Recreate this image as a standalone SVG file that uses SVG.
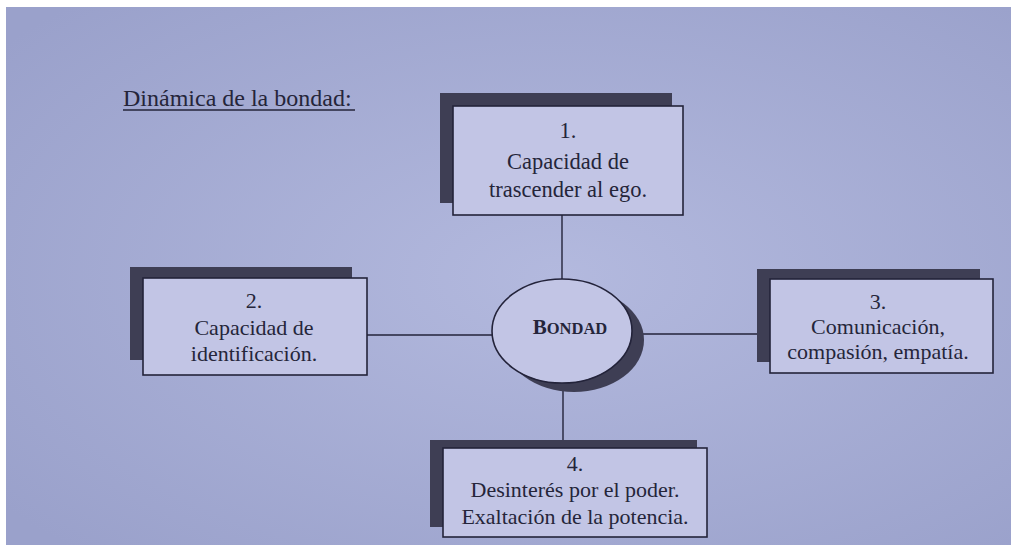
<svg xmlns="http://www.w3.org/2000/svg" width="1011" height="546" viewBox="0 0 1011 546">
  <defs>
    <radialGradient id="bg" cx="0.55" cy="0.5" r="0.7">
      <stop offset="0" stop-color="#b3b9de"/>
      <stop offset="1" stop-color="#9aa1cb"/>
    </radialGradient>
    <style>
      .shadow { fill: #3e3e54; }
      .box { fill: #c2c5e5; stroke: #23233a; stroke-width: 1.6; }
      .conn { stroke: #23233a; stroke-width: 1.4; fill: none; }
    </style>
  </defs>
  <rect x="0" y="0" width="1011" height="546" fill="#ffffff"/>
  <rect x="6" y="7" width="1005" height="538" fill="url(#bg)"/>

  <text x="123" y="106" font-family="Liberation Serif" font-size="24" fill="#25253a">Dinámica de la bondad:</text>
  <line x1="123" y1="110" x2="355" y2="110" stroke="#25253a" stroke-width="1.4"/>

  <g id="connectors">
    <line class="conn" x1="562" y1="215" x2="562" y2="281"/>
    <line class="conn" x1="367" y1="335" x2="492" y2="335"/>
    <line class="conn" x1="632" y1="334" x2="770" y2="334"/>
    <line class="conn" x1="563" y1="383" x2="563" y2="448"/>
  </g>

  <g id="node1">
    <rect class="shadow" x="440" y="93" width="232" height="110"/>
    <rect class="box" x="453" y="106" width="230" height="109"/>
    <text x="568" y="138" font-family="Liberation Serif" font-size="22.5" fill="#25253a" text-anchor="middle">1.</text>
    <text x="568" y="169" font-family="Liberation Serif" font-size="22.5" fill="#25253a" text-anchor="middle">Capacidad de</text>
    <text x="568" y="197" font-family="Liberation Serif" font-size="22.5" fill="#25253a" text-anchor="middle">trascender al ego.</text>
  </g>

  <g id="node2">
    <rect class="shadow" x="130" y="267" width="222" height="93"/>
    <rect class="box" x="143" y="278" width="224" height="97"/>
    <text x="254" y="308" font-family="Liberation Serif" font-size="22" fill="#25253a" text-anchor="middle">2.</text>
    <text x="254" y="335" font-family="Liberation Serif" font-size="22" fill="#25253a" text-anchor="middle">Capacidad de</text>
    <text x="254" y="361" font-family="Liberation Serif" font-size="22" fill="#25253a" text-anchor="middle">identificación.</text>
  </g>

  <g id="node3">
    <rect class="shadow" x="757" y="269" width="223" height="93"/>
    <rect class="box" x="770" y="279" width="223" height="94"/>
    <text x="878" y="309" font-family="Liberation Serif" font-size="22" fill="#25253a" text-anchor="middle">3.</text>
    <text x="878" y="334" font-family="Liberation Serif" font-size="22" fill="#25253a" text-anchor="middle">Comunicación,</text>
    <text x="878" y="359" font-family="Liberation Serif" font-size="22" fill="#25253a" text-anchor="middle">compasión, empatía.</text>
  </g>

  <g id="node4">
    <rect class="shadow" x="430" y="440" width="267" height="87"/>
    <rect class="box" x="443" y="448" width="264" height="89"/>
    <text x="575" y="471" font-family="Liberation Serif" font-size="22" fill="#25253a" text-anchor="middle">4.</text>
    <text x="575" y="497" font-family="Liberation Serif" font-size="22" fill="#25253a" text-anchor="middle">Desinterés por el poder.</text>
    <text x="575" y="524" font-family="Liberation Serif" font-size="22" fill="#25253a" text-anchor="middle">Exaltación de la potencia.</text>
  </g>

  <g id="center">
    <ellipse class="shadow" cx="574" cy="340" rx="70" ry="52"/>
    <ellipse class="box" cx="562" cy="331" rx="70" ry="52"/>
    <text x="570" y="334" font-family="Liberation Serif" font-weight="bold" fill="#25253a" text-anchor="middle"><tspan font-size="21">B</tspan><tspan font-size="16.5">ONDAD</tspan></text>
  </g>
</svg>
